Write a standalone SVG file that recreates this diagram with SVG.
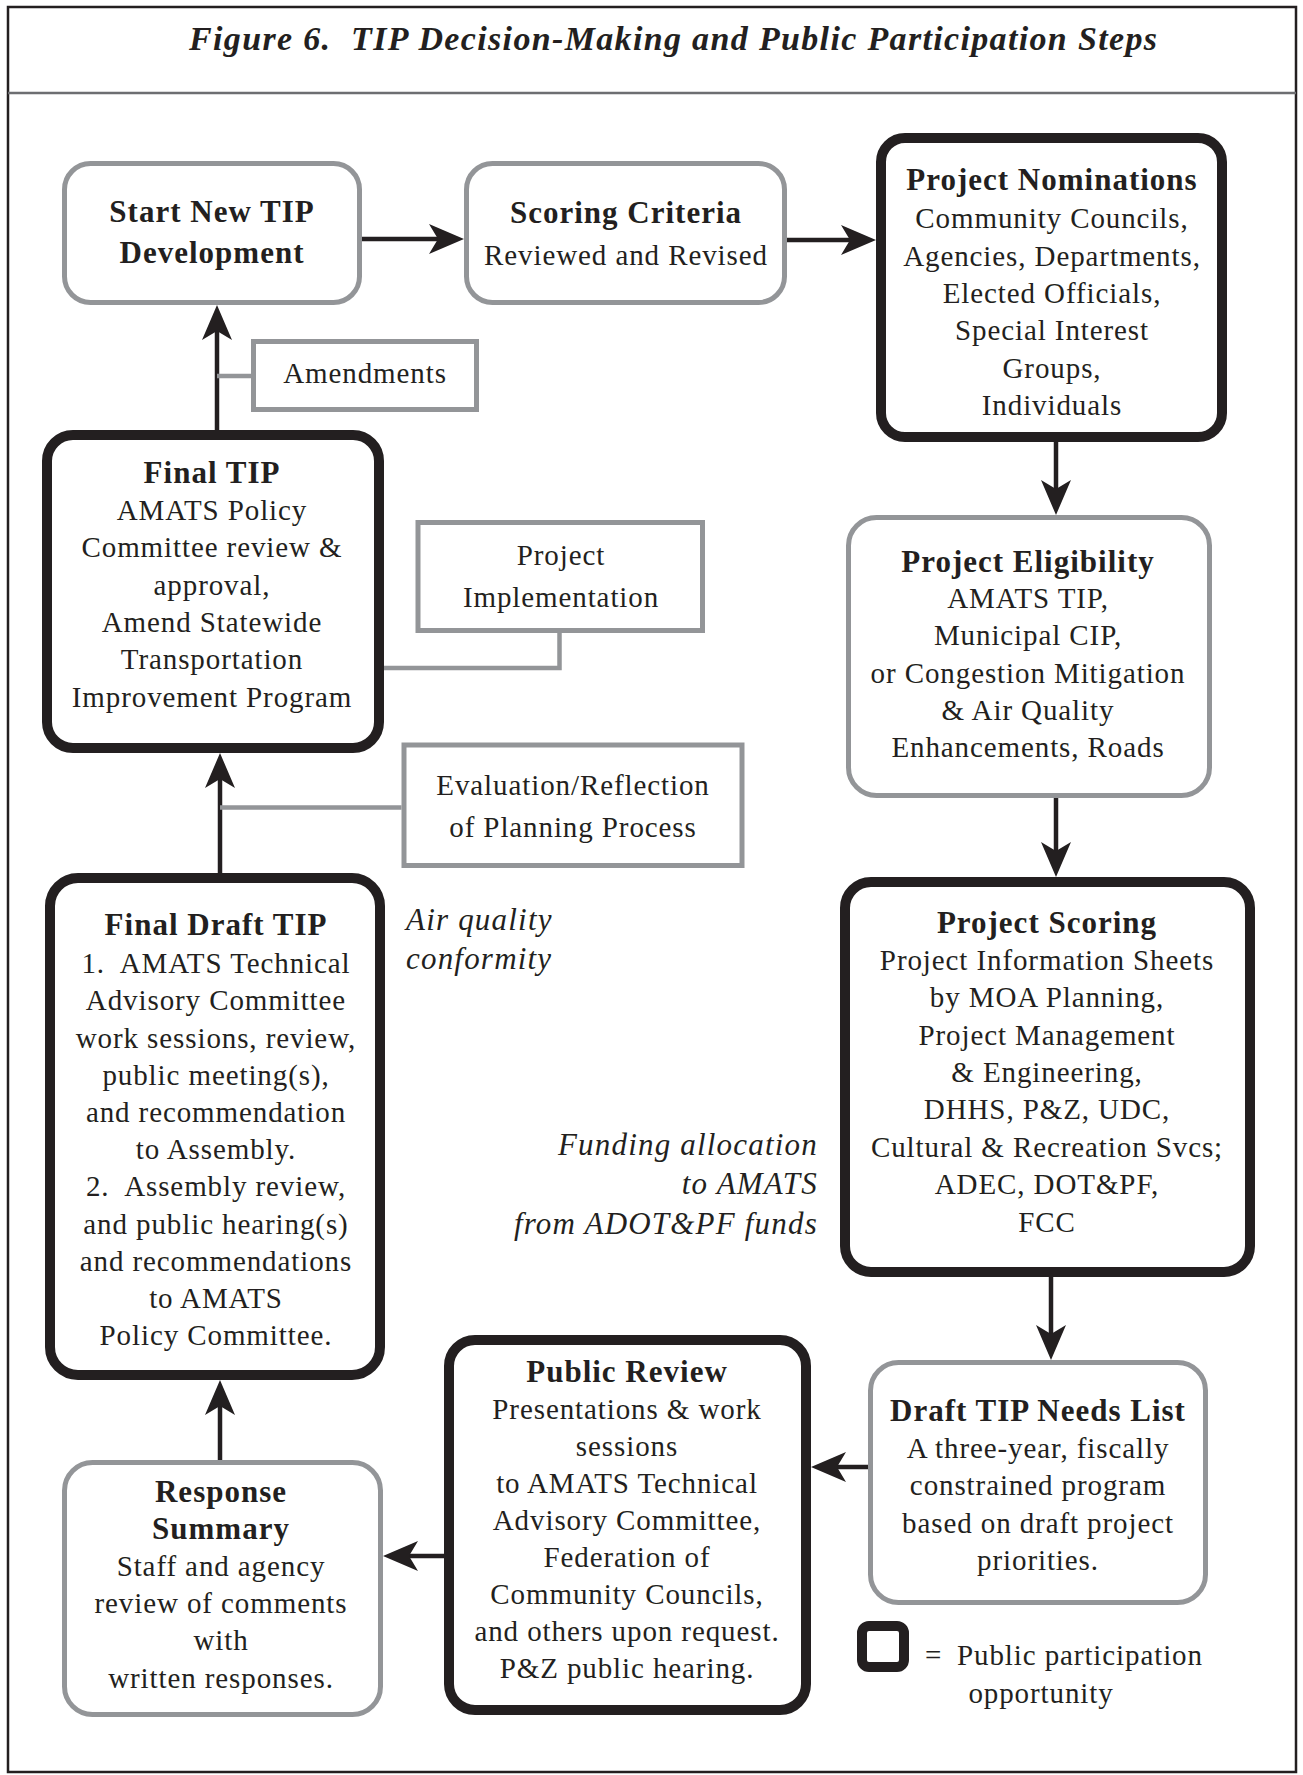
<svg xmlns="http://www.w3.org/2000/svg" width="1303" height="1775" viewBox="0 0 1303 1775">
<style>
.t{font-family:"Liberation Serif","Times New Roman",serif;font-size:29px;letter-spacing:0.9px;fill:#231f20;text-anchor:middle}
.b{font-weight:bold;font-size:31px;letter-spacing:1px}
.i{font-style:italic;font-size:31px;letter-spacing:1.2px}
.gbox{fill:#fff;stroke:#939598;stroke-width:5}
.kbox{fill:#fff;stroke:#231f20;stroke-width:10}
.side{fill:#fff;stroke:#939598;stroke-width:5}
.conn{stroke:#231f20;stroke-width:4.5;fill:none;marker-end:url(#ah)}
.gconn{stroke:#939598;stroke-width:4.5;fill:none}
</style>
<defs>
<marker id="ah" markerUnits="userSpaceOnUse" viewBox="-37 -16 39 32" refX="-25" refY="0" markerWidth="39" markerHeight="32" orient="auto">
<path d="M0,0 L-35,-15 L-26,0 L-35,15 Z" fill="#231f20"/>
</marker>
</defs>
<rect x="0" y="0" width="1303" height="1775" fill="#fff"/>
<rect x="8" y="7" width="1288" height="1765" fill="none" stroke="#231f20" stroke-width="2.5"/>
<line x1="8" y1="93" x2="1296" y2="93" stroke="#6d6e71" stroke-width="2.5"/>
<text x="673" y="50" style="font-family:'Liberation Serif','Times New Roman',serif;font-size:34px;font-weight:bold;font-style:italic;fill:#231f20;text-anchor:middle" textLength="968" lengthAdjust="spacing">Figure 6.&#160; TIP Decision-Making and Public Participation Steps</text>

<g id="connectors">
<path class="conn" d="M362,239 H439"/>
<path class="conn" d="M787,240 H851"/>
<path class="conn" d="M1056,442 V490"/>
<path class="conn" d="M1056,798 V852"/>
<path class="conn" d="M1051,1277 V1335"/>
<path class="conn" d="M868,1467 H836"/>
<path class="conn" d="M444,1556 H408"/>
<path class="conn" d="M220,1460 V1405"/>
<path class="conn" d="M220,873 V778"/>
<path class="conn" d="M217,430 V330"/>
<path class="gconn" d="M217,376 H251"/>
<path class="gconn" d="M384,668 H559.5 V633"/>
<path class="gconn" d="M220,807.5 H401.5"/>
</g>

<g id="start">
<rect class="gbox" x="64.5" y="163.5" width="295" height="139" rx="26"/>
<text class="t b" x="212" y="222">Start New TIP</text>
<text class="t b" x="212" y="263">Development</text>
</g>

<g id="scoring-criteria">
<rect class="gbox" x="466.5" y="163.5" width="318" height="139" rx="26"/>
<text class="t b" x="626" y="223">Scoring Criteria</text>
<text class="t" x="626" y="265">Reviewed and Revised</text>
</g>

<g id="project-nominations">
<rect class="kbox" x="881" y="138" width="341" height="299" rx="24"/>
<text class="t b" x="1052" y="190">Project Nominations</text>
<text class="t" x="1052" y="228">Community Councils,</text>
<text class="t" x="1052" y="266">Agencies, Departments,</text>
<text class="t" x="1052" y="303">Elected Officials,</text>
<text class="t" x="1052" y="340">Special Interest</text>
<text class="t" x="1052" y="378">Groups,</text>
<text class="t" x="1052" y="415">Individuals</text>
</g>

<g id="project-eligibility">
<rect class="gbox" x="848.5" y="517.5" width="361" height="278" rx="28"/>
<text class="t b" x="1028" y="572">Project Eligibility</text>
<text class="t" x="1028" y="608">AMATS TIP,</text>
<text class="t" x="1028" y="645">Municipal CIP,</text>
<text class="t" x="1028" y="683">or Congestion Mitigation</text>
<text class="t" x="1028" y="720">&amp; Air Quality</text>
<text class="t" x="1028" y="757">Enhancements, Roads</text>
</g>

<g id="project-scoring">
<rect class="kbox" x="845" y="882" width="405" height="390" rx="26"/>
<text class="t b" x="1047" y="933">Project Scoring</text>
<text class="t" x="1047" y="970">Project Information Sheets</text>
<text class="t" x="1047" y="1007">by MOA Planning,</text>
<text class="t" x="1047" y="1045">Project Management</text>
<text class="t" x="1047" y="1082">&amp; Engineering,</text>
<text class="t" x="1047" y="1119">DHHS, P&amp;Z, UDC,</text>
<text class="t" x="1047" y="1157">Cultural &amp; Recreation Svcs;</text>
<text class="t" x="1047" y="1194">ADEC, DOT&amp;PF,</text>
<text class="t" x="1047" y="1232">FCC</text>
</g>

<g id="draft-tip-needs-list">
<rect class="gbox" x="870.5" y="1362.5" width="335" height="240" rx="28"/>
<text class="t b" x="1038" y="1421">Draft TIP Needs List</text>
<text class="t" x="1038" y="1458">A three-year, fiscally</text>
<text class="t" x="1038" y="1495">constrained program</text>
<text class="t" x="1038" y="1533">based on draft project</text>
<text class="t" x="1038" y="1570">priorities.</text>
</g>

<g id="public-review">
<rect class="kbox" x="449" y="1340" width="357" height="370" rx="26"/>
<text class="t b" x="627" y="1382">Public Review</text>
<text class="t" x="627" y="1419">Presentations &amp; work</text>
<text class="t" x="627" y="1456">sessions</text>
<text class="t" x="627" y="1493">to AMATS Technical</text>
<text class="t" x="627" y="1530">Advisory Committee,</text>
<text class="t" x="627" y="1567">Federation of</text>
<text class="t" x="627" y="1604">Community Councils,</text>
<text class="t" x="627" y="1641">and others upon request.</text>
<text class="t" x="627" y="1678">P&amp;Z public hearing.</text>
</g>

<g id="response-summary">
<rect class="gbox" x="64.5" y="1462.5" width="316" height="252" rx="28"/>
<text class="t b" x="221" y="1502">Response</text>
<text class="t b" x="221" y="1539">Summary</text>
<text class="t" x="221" y="1576">Staff and agency</text>
<text class="t" x="221" y="1613">review of comments</text>
<text class="t" x="221" y="1650">with</text>
<text class="t" x="221" y="1688">written responses.</text>
</g>

<g id="final-draft-tip">
<rect class="kbox" x="50" y="878" width="330" height="497" rx="28"/>
<text class="t b" x="216" y="935">Final Draft TIP</text>
<text class="t" x="216" y="973">1.&#160; AMATS Technical</text>
<text class="t" x="216" y="1010">Advisory Committee</text>
<text class="t" x="216" y="1048">work sessions, review,</text>
<text class="t" x="216" y="1085">public meeting(s),</text>
<text class="t" x="216" y="1122">and recommendation</text>
<text class="t" x="216" y="1159">to Assembly.</text>
<text class="t" x="216" y="1196">2.&#160; Assembly review,</text>
<text class="t" x="216" y="1234">and public hearing(s)</text>
<text class="t" x="216" y="1271">and recommendations</text>
<text class="t" x="216" y="1308">to AMATS</text>
<text class="t" x="216" y="1345">Policy Committee.</text>
</g>

<g id="final-tip">
<rect class="kbox" x="47" y="435" width="332" height="313" rx="26"/>
<text class="t b" x="212" y="483">Final TIP</text>
<text class="t" x="212" y="520">AMATS Policy</text>
<text class="t" x="212" y="557">Committee review &amp;</text>
<text class="t" x="212" y="595">approval,</text>
<text class="t" x="212" y="632">Amend Statewide</text>
<text class="t" x="212" y="669">Transportation</text>
<text class="t" x="212" y="707">Improvement Program</text>
</g>

<g id="amendments">
<rect class="side" x="253.5" y="341.5" width="223" height="68"/>
<text class="t" x="365" y="383">Amendments</text>
</g>

<g id="project-implementation">
<rect class="side" x="418" y="522.5" width="284.5" height="108"/>
<text class="t" x="561" y="565">Project</text>
<text class="t" x="561" y="607">Implementation</text>
</g>

<g id="evaluation">
<rect class="side" x="404" y="745" width="338" height="120.5"/>
<text class="t" x="573" y="795">Evaluation/Reflection</text>
<text class="t" x="573" y="837">of Planning Process</text>
</g>

<g id="air-quality">
<text class="t i" x="406" y="930" style="text-anchor:start">Air quality</text>
<text class="t i" x="406" y="969" style="text-anchor:start">conformity</text>
</g>

<g id="funding">
<text class="t i" x="818" y="1155" style="text-anchor:end">Funding allocation</text>
<text class="t i" x="818" y="1194" style="text-anchor:end">to AMATS</text>
<text class="t i" x="818" y="1234" style="text-anchor:end">from ADOT&amp;PF funds</text>
</g>

<g id="legend">
<rect x="862" y="1626" width="42" height="41" rx="7" fill="#fff" stroke="#231f20" stroke-width="10"/>
<text class="t" x="925" y="1665" style="text-anchor:start">=</text>
<text class="t" x="957" y="1665" style="text-anchor:start">Public participation</text>
<text class="t" x="1041" y="1703">opportunity</text>
</g>
</svg>
